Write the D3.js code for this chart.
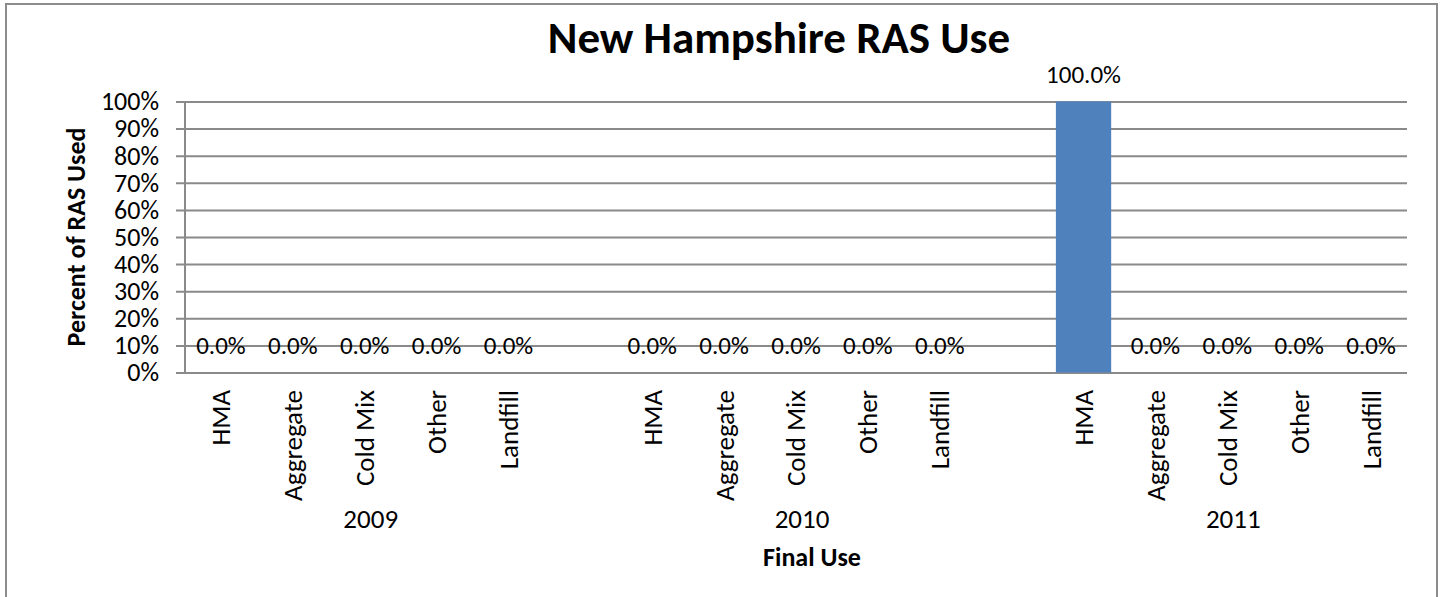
<!DOCTYPE html>
<html>
<head>
<meta charset="utf-8">
<script src="https://cdn.jsdelivr.net/npm/d3@7"></script>
<style>
  html, body { margin: 0; padding: 0; background: #fff; }
  svg text { font-family: Carlito, Lato, "Open Sans", sans-serif; fill: #000; }
</style>
</head>
<body>
<svg id="chart" width="1442" height="597"></svg>
<script>
// ---- data ----
const years = ["2009", "2010", "2011"];
const uses = ["HMA", "Aggregate", "Cold Mix", "Other", "Landfill"];
const values2009 = [0, 0, 0, 0, 0];
const values2010 = [0, 0, 0, 0, 0];
const values2011 = [100, 0, 0, 0, 0];
const yTickValues = [0, 10, 20, 30, 40, 50, 60, 70, 80, 90, 100];
const titleText = "New Hampshire RAS Use";
const yTitle = "Percent of RAS Used";
const xTitle = "Final Use";

const seriesByYear = { "2009": values2009, "2010": values2010, "2011": values2011 };

// build slots: five uses per year, a blank slot between years
const slots = [];
const rows = [];
years.forEach((yr, i) => {
  uses.forEach((u, j) => {
    const key = yr + "|" + u;
    slots.push(key);
    rows.push({ key, year: yr, use: u, value: seriesByYear[yr][j] });
  });
  if (i < years.length - 1) slots.push("gap" + i);
});

// ---- layout ----
const svg = d3.select("#chart");
const plotLeft = 185, plotRight = 1407, plotTop = 101.5, plotBottom = 372.5;
const gridColor = "#8a8a8a";

// outer border
svg.append("rect")
  .attr("x", 6).attr("y", 4).attr("width", 1431).attr("height", 610)
  .attr("fill", "none").attr("stroke", "#8c8c8c").attr("stroke-width", 2);

const x = d3.scaleBand().domain(slots).range([plotLeft, plotRight]).paddingInner(0).paddingOuter(0);
const y = d3.scaleLinear().domain([0, 100]).range([plotBottom, plotTop]);

// gridlines + y axis labels
const yAxis = d3.axisLeft(y)
  .tickValues(yTickValues)
  .tickFormat(d => d + "%")
  .tickSize(-(plotRight - 176))
  .tickPadding(17);
const gy = svg.append("g").attr("transform", "translate(176,0)").call(yAxis);
gy.select(".domain").remove();
gy.selectAll(".tick line").attr("stroke", gridColor).attr("stroke-width", 2);
gy.selectAll(".tick text").attr("font-size", 26).attr("font-family", null).style("fill", "#000");

// vertical axis line
svg.append("line")
  .attr("x1", plotLeft).attr("x2", plotLeft)
  .attr("y1", y(100)).attr("y2", y(0))
  .attr("stroke", gridColor).attr("stroke-width", 2);

// bars
const barW = x.bandwidth() / 1.3;
svg.append("g").selectAll("rect").data(rows).join("rect")
  .attr("x", d => x(d.key) + (x.bandwidth() - barW) / 2)
  .attr("width", barW)
  .attr("y", d => y(d.value))
  .attr("height", d => y(0) - y(d.value))
  .attr("fill", "#4F81BD");

// data labels
svg.append("g").selectAll("text").data(rows).join("text")
  .attr("x", d => x(d.key) + x.bandwidth() / 2)
  .attr("y", d => y(d.value) - 19)
  .attr("text-anchor", "middle")
  .attr("font-size", 25)
  .text(d => d.value.toFixed(1) + "%");

// category labels (rotated)
svg.append("g").selectAll("text").data(rows).join("text")
  .attr("transform", d => `translate(${x(d.key) + x.bandwidth() / 2},390) rotate(-90)`)
  .attr("text-anchor", "end")
  .attr("dy", "0.35em")
  .attr("font-size", 27)
  .text(d => d.use);

// year group labels
svg.append("g").selectAll("text").data(years).join("text")
  .attr("x", yr => x(yr + "|" + uses[2]) + x.bandwidth() / 2 + 6)
  .attr("y", 528)
  .attr("text-anchor", "middle")
  .attr("font-size", 27)
  .text(yr => yr);

// axis titles
svg.append("text")
  .attr("x", 812).attr("y", 566)
  .attr("text-anchor", "middle")
  .attr("font-size", 26).attr("font-weight", "bold")
  .text(xTitle);

svg.append("text")
  .attr("transform", `translate(85,${(plotTop + plotBottom) / 2}) rotate(-90)`)
  .attr("text-anchor", "middle")
  .attr("font-size", 26).attr("font-weight", "bold")
  .text(yTitle);

// chart title
svg.append("text")
  .attr("x", 779).attr("y", 53)
  .attr("text-anchor", "middle")
  .attr("font-size", 45).attr("font-weight", "bold")
  .text(titleText);
</script>
</body>
</html>
